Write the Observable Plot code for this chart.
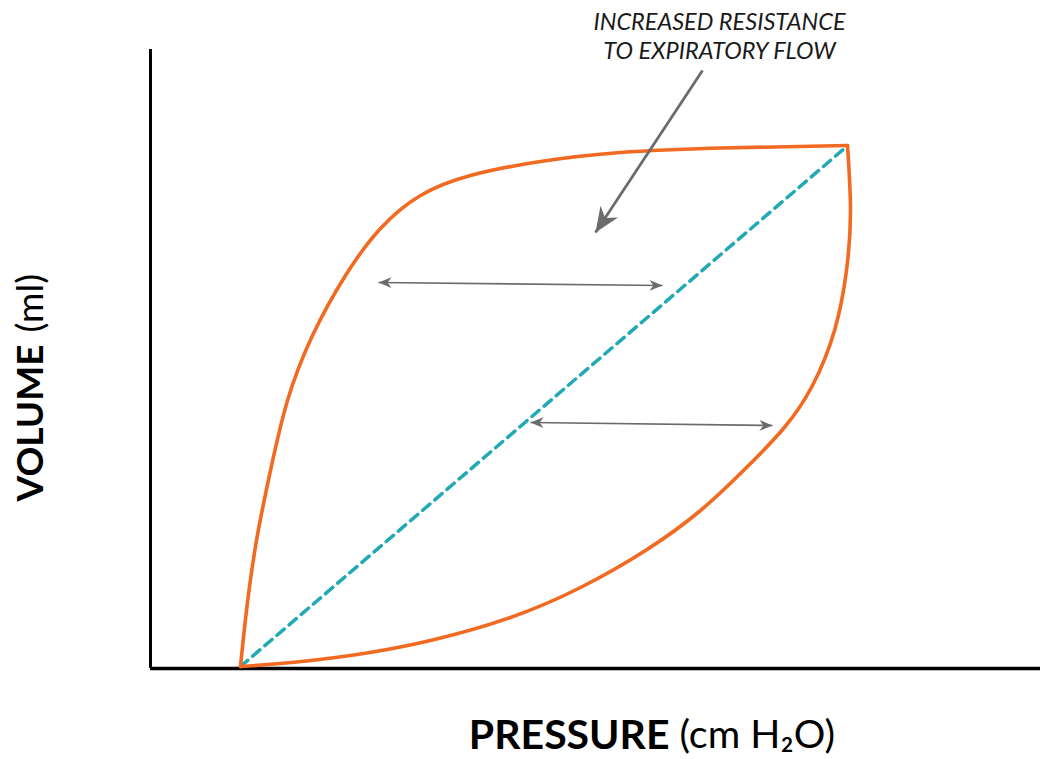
<!DOCTYPE html>
<html><head><meta charset="utf-8">
<script src="https://cdn.jsdelivr.net/npm/d3@7"></script>
<script src="https://cdn.jsdelivr.net/npm/@observablehq/plot@0.6"></script>
<style>body{margin:0;background:#fff;} #chart svg{display:block;}</style>
</head><body><div id="chart"></div>
<script>
// Pressure–volume loop (arbitrary units)
const inspPressure = [9.0, 9.6, 10.6, 12.0, 13.7, 16.2, 19.5, 23.0, 27.0, 32.0, 39.0, 47.0, 57.0, 69.7];
const inspVolume   = [0.2, 5.8, 12.8, 19.8, 26.8, 33.3, 39.3, 44.0, 47.3, 49.3, 50.7, 51.6, 52.05, 52.3];
const expPressure  = [69.7, 70.0, 69.6, 68.4, 66.2, 63.3, 59.5, 55.0, 49.5, 43.0, 36.0, 28.0, 20.0, 13.0, 9.0];
const expVolume    = [52.3, 45.8, 39.8, 33.8, 28.3, 24.0, 20.0, 15.8, 11.8, 8.1, 5.1, 2.8, 1.3, 0.5, 0.2];
// Dashed compliance line
const linePressure = [9.0, 69.5];
const lineVolume   = [0.2, 52.1];
// Double-headed hysteresis arrows
const gapX1 = [22.8, 38.0];
const gapY1 = [38.6, 24.6];
const gapX2 = [51.2, 62.2];
const gapY2 = [38.3, 24.3];
// Annotation arrow
const noteX1 = [55.2];
const noteY1 = [59.8];
const noteX2 = [44.5];
const noteY2 = [43.6];
const noteText = ["INCREASED RESISTANCE\nTO EXPIRATORY FLOW"];
const noteTextX = [56.9];
const noteTextY = [63.3];
const xLabelBold = "PRESSURE";
const xLabelUnit = "(cm H\u2082O)";
const yLabelBold = "VOLUME";
const yLabelUnit = "(ml)";

const loop = [
  ...inspPressure.map((p, i) => ({p, v: inspVolume[i], part: "insp"})),
  ...expPressure.map((p, i) => ({p, v: expVolume[i], part: "exp"}))
];
const compliance = linePressure.map((p, i) => ({p, v: lineVolume[i]}));
const gaps = gapX1.map((x1, i) => ({x1, y1: gapY1[i], x2: gapX2[i], y2: gapY2[i]}));
const notes = noteX1.map((x1, i) => ({x1, y1: noteY1[i], x2: noteX2[i], y2: noteY2[i]}));
const ang = (a) => Math.atan2(a.x2 - a.x1, a.y2 - a.y1) * 180 / Math.PI;
const gapHeads = gaps.flatMap(a => [
  {x: a.x2, y: a.y2, r: ang(a)},
  {x: a.x1, y: a.y1, r: ang(a) + 180}
]);
const noteHeads = notes.map(a => ({x: a.x2, y: a.y2, r: ang(a)}));
const stealth = {draw(ctx, l) {
  const w = l * 0.42;
  ctx.moveTo(0, -l); ctx.lineTo(w, 0); ctx.lineTo(0, -l * 0.3); ctx.lineTo(-w, 0); ctx.closePath();
}};

const ORANGE = "#f26a21", TEAL = "#21a9b6", GREY = "#6a6b6d";
const labelFont = "Lato, 'Open Sans', sans-serif";

const chart = Plot.plot({
  width: 1040, height: 759,
  marginLeft: 150, marginRight: 0, marginTop: 49, marginBottom: 91,
  x: {domain: [0, 89], axis: null},
  y: {domain: [0, 61.9], axis: null},
  style: {fontFamily: labelFont, background: "#fff"},
  marks: [
    Plot.ruleY([0], {stroke: "#000", strokeWidth: 3.5}),
    Plot.ruleX([0], {stroke: "#000", strokeWidth: 3}),
    Plot.line(compliance, {x: "p", y: "v", stroke: TEAL, strokeWidth: 3.5, strokeDasharray: "9.5,6.5", strokeLinecap: "round"}),
    Plot.line(loop, {x: "p", y: "v", z: "part", stroke: ORANGE, strokeWidth: 3.6, curve: "natural", strokeLinejoin: "round"}),
    Plot.link(gaps, {x1: "x1", y1: "y1", x2: "x2", y2: "y2", stroke: GREY, strokeWidth: 1.6, strokeLinecap: "butt"}),
    Plot.vector(gapHeads, {x: "x", y: "y", rotate: "r", length: 13, anchor: "end", shape: stealth, fill: GREY, stroke: "none"}),
    Plot.link(notes, {x1: "x1", y1: "y1", x2: "x2", y2: "y2", stroke: GREY, strokeWidth: 2.8, strokeLinecap: "butt"}),
    Plot.vector(noteHeads, {x: "x", y: "y", rotate: "r", length: 25, anchor: "end", shape: stealth, fill: GREY, stroke: "none"}),
    Plot.text(noteText, {x: () => noteTextX[0], y: () => noteTextY[0], text: d => d, fontSize: 23.5, fontStyle: "italic", fill: "#1a1a1a", lineHeight: 1.22, textAnchor: "middle", lineAnchor: "middle"}),
    Plot.text([xLabelBold], {frameAnchor: "bottom", text: d => d, dx: 74, dy: 67, textAnchor: "end", lineAnchor: "middle", fontSize: 41, fontWeight: "bold", fill: "#000"}),
    Plot.text([xLabelUnit], {frameAnchor: "bottom", text: d => d, dx: 84, dy: 67, textAnchor: "start", lineAnchor: "middle", fontSize: 39.5, fill: "#000"}),
    Plot.text([yLabelBold], {frameAnchor: "left", text: d => d, dx: -119, dy: -14.5, rotate: -90, textAnchor: "end", lineAnchor: "middle", fontSize: 37, fontWeight: "bold", fill: "#000"}),
    Plot.text([yLabelUnit], {frameAnchor: "left", text: d => d, dx: -119, dy: -26.5, rotate: -90, textAnchor: "start", lineAnchor: "middle", fontSize: 37, fill: "#000"})
  ]
});
document.getElementById("chart").appendChild(chart);
</script>
</body></html>
